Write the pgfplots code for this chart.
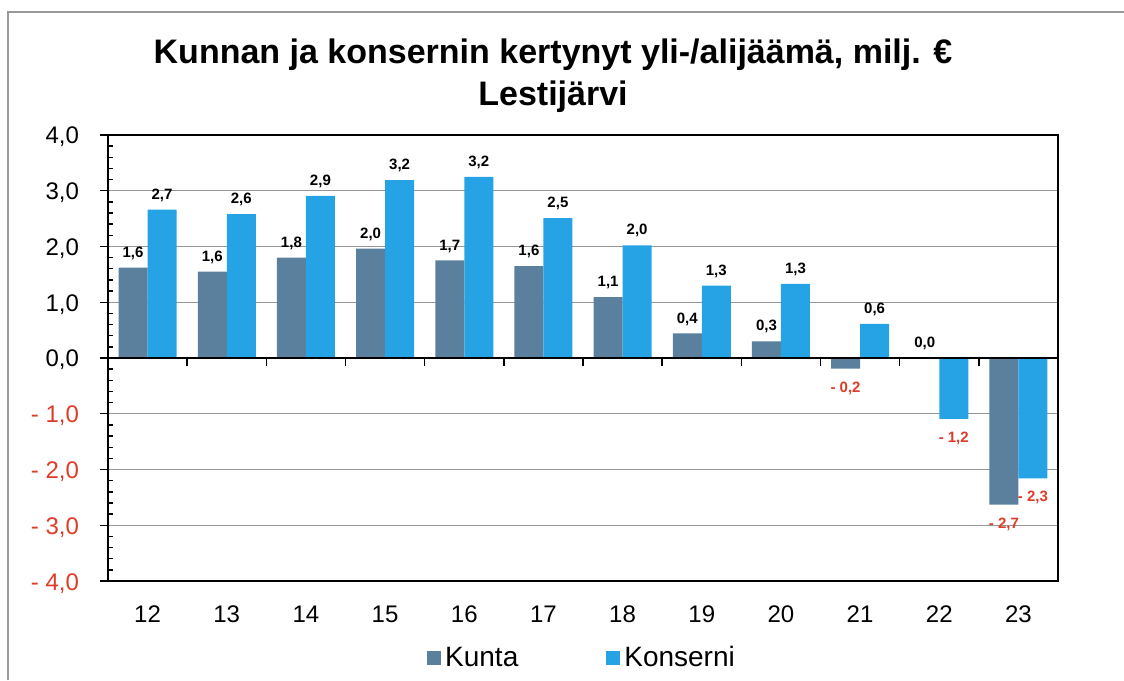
\documentclass[border=0pt]{standalone}
\usepackage{fontspec}
\setmainfont{Liberation Sans}
\usepackage{pgfplots}
\pgfplotsset{compat=1.18}
\definecolor{kunta}{RGB}{90,128,158}
\definecolor{konserni}{RGB}{38,163,228}
\definecolor{negred}{RGB}{222,60,40}
\definecolor{gridgray}{RGB}{150,150,150}
\begin{document}
\begin{tikzpicture}
\useasboundingbox (0,0) rectangle (562pt,340pt);
\draw[gray!80, line width=0.7pt] (4pt,0) -- (4pt,334pt) -- (562pt,334pt);
\node[font=\fontsize{17}{21}\selectfont\bfseries, align=center] at (276.5pt,302pt)
  {Kunnan ja konsernin kertynyt yli-/alijäämä, milj. €\\Lestijärvi};
\begin{axis}[
    at={(54pt,49.5pt)}, anchor=south west,
    scale only axis, width=475pt, height=223pt,
    xmin=-0.5, xmax=11.5, ymin=-4, ymax=4,
    ybar=0pt, bar width=14.5pt,
    xtick={0,...,11},
    xticklabels={12,13,14,15,16,17,18,19,20,21,22,23},
    major x tick style={draw=none},
    ytick={-4,...,4},
    yticklabels={{\textcolor{negred}{- 4,0}},{\textcolor{negred}{- 3,0}},
      {\textcolor{negred}{- 2,0}},{\textcolor{negred}{- 1,0}},
      {0,0},{1,0},{2,0},{3,0},{4,0}},
    minor y tick num=4,
    ytick pos=left, xtick pos=bottom,
    tick align=outside,
    major tick length=4pt, minor tick length=2.5pt,
    minor y tick style={xshift=2.5pt},
    tick style={black, line width=0.7pt},
    ymajorgrids, grid style={gridgray, line width=0.5pt},
    axis line style={black, line width=1pt},
    xticklabel style={font=\fontsize{12}{14}\selectfont, text height=9pt, text depth=0pt, yshift=-4pt},
    yticklabel style={font=\fontsize{12}{14}\selectfont, text height=9pt, text depth=0pt, xshift=-7pt},
    point meta=explicit symbolic,
    visualization depends on={rawy \as \rawy},
    nodes near coords={\ifdim\rawy pt<0pt\color{negred}\fi\pgfplotspointmeta},
    every node near coord/.append style={
      font=\fontsize{7.5}{9}\selectfont\bfseries,
      /utils/exec={\ifdim\rawy pt<0pt\def\myanc{north}\def\mysh{-3pt}\else\def\myanc{south}\def\mysh{0.5pt}\fi},
      anchor=\myanc, yshift=\mysh},
    legend columns=2,
    legend style={at={(0.5,-0.1726)}, anchor=center, draw=none,
      font=\fontsize{14}{16}\selectfont,
      /tikz/every even column/.append style={column sep=42pt}},
    legend image code/.code={\fill[#1] (0pt,-3.5pt) rectangle (7pt,3.5pt);},
]
\addplot[fill=kunta, draw=none] coordinates {
  (0,1.62) [1,6]
  (1,1.55) [1,6]
  (2,1.80) [1,8]
  (3,1.96) [2,0]
  (4,1.75) [1,7]
  (5,1.65) [1,6]
  (6,1.09) [1,1]
  (7,0.44) [0,4]
  (8,0.30) [0,3]
  (9,-0.19) [- 0,2]
  (10,0.00) [0,0]
  (11,-2.63) [- 2,7]
};
\addplot[fill=konserni, draw=none] coordinates {
  (0,2.66) [2,7]
  (1,2.58) [2,6]
  (2,2.91) [2,9]
  (3,3.19) [3,2]
  (4,3.25) [3,2]
  (5,2.51) [2,5]
  (6,2.02) [2,0]
  (7,1.30) [1,3]
  (8,1.33) [1,3]
  (9,0.61) [0,6]
  (10,-1.09) [- 1,2]
  (11,-2.16) [- 2,3]
};
\legend{Kunta, Konserni}
\end{axis}
\begin{axis}[
    at={(54pt,49.5pt)}, anchor=south west,
    scale only axis, width=475pt, height=223pt,
    xmin=-0.5, xmax=11.5, ymin=-4, ymax=4,
    axis x line=middle, axis y line=none,
    x axis line style={-, black, line width=1.2pt},
    xtick={0.5,1.5,...,10.5}, xticklabels={},
    tick align=outside, major tick length=4pt,
    tick style={black, line width=0.7pt},
    ytick=\empty,
]
\end{axis}
\end{tikzpicture}
\end{document}
